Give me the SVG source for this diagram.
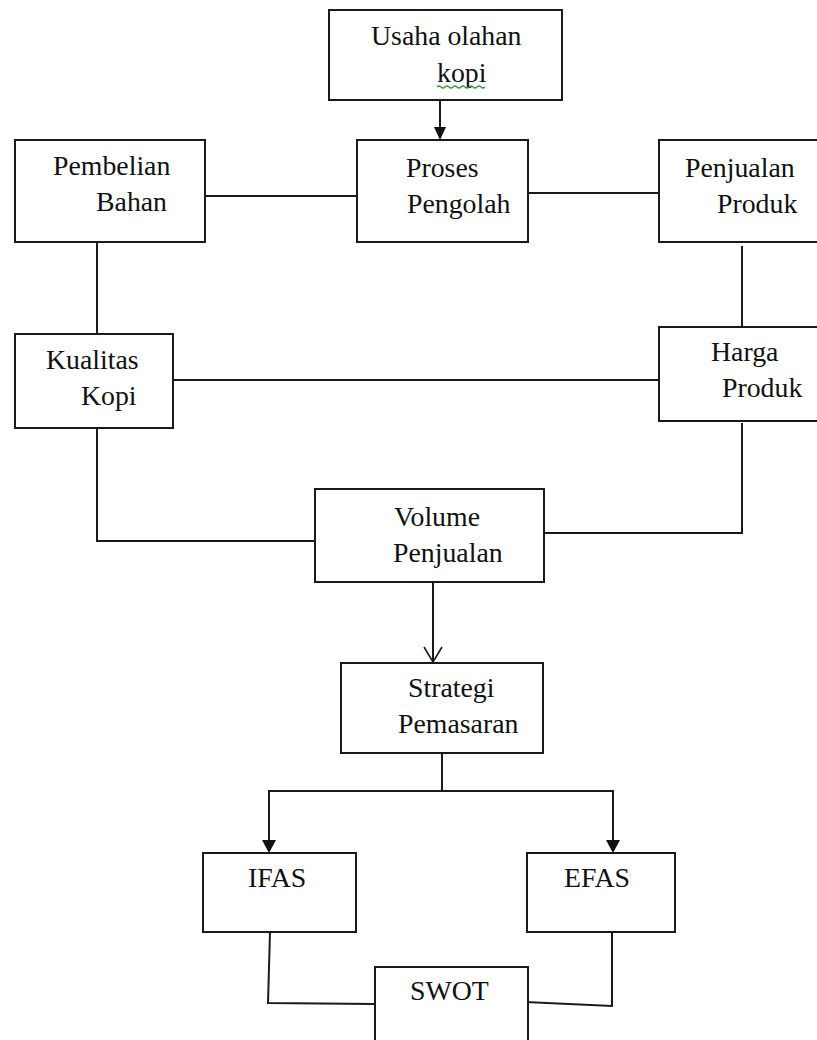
<svg xmlns="http://www.w3.org/2000/svg" width="817" height="1040" viewBox="0 0 817 1040">
<style>
.box{fill:#fff;stroke:#1a1a1a;stroke-width:2}
.t{font-family:"Liberation Serif","Times New Roman",serif;font-size:27.8px;fill:#111}
.ln{fill:none;stroke:#1a1a1a;stroke-width:2}
.ah{fill:#111;stroke:none}
</style>
<defs>
<marker id="fill" viewBox="0 0 12 14" refX="6" refY="14" markerWidth="12" markerHeight="14" markerUnits="userSpaceOnUse" orient="auto-start-reverse">
<path d="M0,0 L12,0 L6,14 Z" class="ah"/>
</marker>
</defs>
<rect width="817" height="1040" fill="#fff"/>
<g id="connectors">
<line class="ln" x1="440" y1="100" x2="440" y2="128"/>
<path class="ah" d="M434,127 L446,127 L440,140 Z"/>
<line class="ln" x1="202" y1="196" x2="357" y2="196"/>
<line class="ln" x1="528" y1="193" x2="659" y2="193"/>
<line class="ln" x1="97" y1="242" x2="97" y2="334"/>
<line class="ln" x1="742" y1="246" x2="742" y2="330"/>
<line class="ln" x1="173" y1="380" x2="665" y2="380"/>
<polyline class="ln" points="97,428 97,541 315,541"/>
<polyline class="ln" points="742,423 742,533 544,533"/>
<line class="ln" x1="433" y1="582" x2="433" y2="662"/>
<polyline class="ln" points="424,647 433,662 442,647" style="stroke-width:1.6"/>
<line class="ln" x1="442" y1="753" x2="442" y2="790"/>
<polyline class="ln" points="269,841 269,791 613,791 613,841"/>
<path class="ah" d="M262,840 L276,840 L269,853 Z"/>
<path class="ah" d="M606,840 L620,840 L613,853 Z"/>
<polyline class="ln" points="270,932 268,1003 375,1004"/>
<polyline class="ln" points="525,1002 612,1006 612,932"/>
</g>
<g id="usaha">
<rect class="box" x="329" y="10" width="233" height="90"/>
<text class="t" x="371" y="45">Usaha olahan</text>
<text class="t" x="437" y="82">kopi</text>
<path d="M437,87 q2,-2 4,0 t4,0 t4,0 t4,0 t4,0 t4,0 t4,0 t4,0 t4,0 t4,0 t4,0 t4,0" fill="none" stroke="#3a9a3a" stroke-width="1.2"/>
</g>
<g id="proses">
<rect class="box" x="357" y="140" width="171" height="102"/>
<text class="t" x="406" y="177">Proses</text>
<text class="t" x="407" y="213">Pengolah</text>
</g>
<g id="pembelian">
<rect class="box" x="15" y="140" width="190" height="102"/>
<text class="t" x="53" y="175">Pembelian</text>
<text class="t" x="96" y="211">Bahan</text>
</g>
<g id="penjualan-produk">
<rect class="box" x="659" y="140" width="165" height="102"/>
<text class="t" x="685" y="177">Penjualan</text>
<text class="t" x="717" y="213">Produk</text>
</g>
<g id="kualitas">
<rect class="box" x="15" y="334" width="158" height="94"/>
<text class="t" x="46" y="369">Kualitas</text>
<text class="t" x="81" y="405">Kopi</text>
</g>
<g id="harga">
<rect class="box" x="659" y="327" width="165" height="94"/>
<text class="t" x="711" y="361">Harga</text>
<text class="t" x="722" y="397">Produk</text>
</g>
<g id="volume">
<rect class="box" x="315" y="489" width="229" height="93"/>
<text class="t" x="394" y="526">Volume</text>
<text class="t" x="393" y="562">Penjualan</text>
</g>
<g id="strategi">
<rect class="box" x="341" y="663" width="202" height="90"/>
<text class="t" x="408" y="697">Strategi</text>
<text class="t" x="398" y="733">Pemasaran</text>
</g>
<g id="ifas">
<rect class="box" x="203" y="853" width="153" height="79"/>
<text class="t" x="248" y="887">IFAS</text>
</g>
<g id="efas">
<rect class="box" x="527" y="853" width="148" height="79"/>
<text class="t" x="564" y="887">EFAS</text>
</g>
<g id="swot">
<rect class="box" x="375" y="967" width="153" height="80"/>
<text class="t" x="410" y="1000">SWOT</text>
</g>
</svg>
